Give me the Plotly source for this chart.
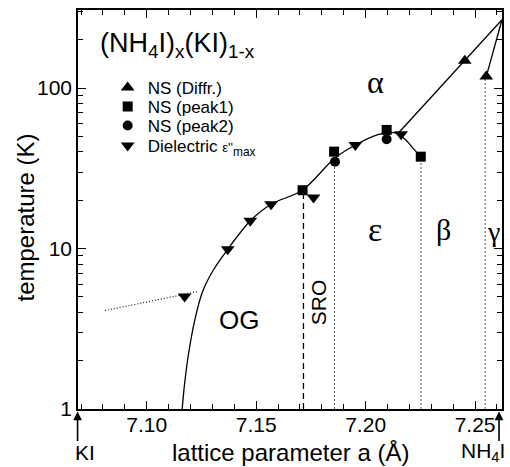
import plotly.graph_objects as go

# ---------------- data ----------------
diffr_x = [7.2453, 7.2551]
diffr_T = [148, 118]

peak1_x = [7.1712, 7.1856, 7.2096, 7.2252]
peak1_T = [23.1, 40.2, 54.9, 37.4]

peak2_x = [7.1860, 7.2096]
peak2_T = [34.8, 48.0]

diel_x = [7.1173, 7.1370, 7.1473, 7.1568, 7.1762, 7.1953, 7.2162]
diel_T = [5.03, 9.9, 14.9, 18.9, 20.8, 44.2, 51.6]

# phase boundary OG / epsilon / alpha
bound_x = [7.1162, 7.1171, 7.1191, 7.1219, 7.1254, 7.1303, 7.1370, 7.1473,
           7.1568, 7.1712, 7.1858, 7.1953, 7.2060, 7.2130, 7.2180, 7.2218, 7.2252]
bound_T = [1.0, 1.36, 2.21, 3.56, 5.35, 7.3, 9.9, 14.9,
           18.9, 23.1, 36.5, 44.2, 51.5, 52.8, 48.0, 42.0, 37.4]

# alpha boundary (straight) and gamma boundary
alpha_x = [7.2150, 7.2623]
alpha_T = [52.5, 267]
gamma_x = [7.2623, 7.2551]
gamma_T = [267, 118]

# low-temperature dotted extension
low_x = [7.0809, 7.1238]
low_T = [4.11, 5.41]

# vertical phase lines (x, top T)
sro_x, sro_T = 7.1716, 23.1
vdot_x = [7.1858, 7.2253, 7.2546]
vdot_T = [34.8, 37.4, 118]

x_ticks = [7.10, 7.15, 7.20, 7.25]
x_ticklabels = ["7.10", "7.15", "7.20", "7.25"]
y_ticks = [1, 10, 100]
y_ticklabels = ["1", "10", "100"]
y_minor = [2, 3, 4, 5, 6, 7, 8, 9, 20, 30, 40, 50, 60, 70, 80, 90, 200, 300]

FONT = "Liberation Sans, Arial, sans-serif"
SERIF = "Liberation Serif, Times New Roman, serif"

fig = go.Figure()

line_style = dict(color="black", width=1.3)

fig.add_trace(go.Scatter(x=bound_x, y=bound_T, mode="lines",
                         line=dict(color="black", width=1.3, shape="spline", smoothing=0.8),
                         showlegend=False, hoverinfo="skip"))
fig.add_trace(go.Scatter(x=alpha_x, y=alpha_T, mode="lines", line=line_style,
                         showlegend=False, hoverinfo="skip"))
fig.add_trace(go.Scatter(x=gamma_x, y=gamma_T, mode="lines", line=line_style,
                         showlegend=False, hoverinfo="skip"))
fig.add_trace(go.Scatter(x=low_x, y=low_T, mode="lines",
                         line=dict(color="black", width=1.1, dash="1px,2px"),
                         showlegend=False, hoverinfo="skip"))
fig.add_trace(go.Scatter(x=[sro_x, sro_x], y=[1, sro_T], mode="lines",
                         line=dict(color="black", width=1.3, dash="6px,4px"),
                         showlegend=False, hoverinfo="skip"))
for vx, vt in zip(vdot_x, vdot_T):
    fig.add_trace(go.Scatter(x=[vx, vx], y=[1, vt], mode="lines",
                             line=dict(color="#555", width=1, dash="2px,2px"),
                             showlegend=False, hoverinfo="skip"))

# legend rows: pixel centre y -> paper
def py2paper(py):
    return (409 - py) / 399.0

leg_x = 0.07
fig.add_trace(go.Scatter(x=diffr_x, y=diffr_T, mode="markers", name="NS (Diffr.)",
                         legend="legend",
                         marker=dict(symbol="triangle-up", size=12, color="black")))
fig.add_trace(go.Scatter(x=peak1_x, y=peak1_T, mode="markers", name="NS (peak1)",
                         legend="legend2",
                         marker=dict(symbol="square", size=10, color="black")))
fig.add_trace(go.Scatter(x=peak2_x, y=peak2_T, mode="markers", name="NS (peak2)",
                         legend="legend3",
                         marker=dict(symbol="circle", size=10, color="black")))
fig.add_trace(go.Scatter(x=diel_x, y=diel_T, mode="markers",
                         name="Dielectric <span style='font-size:13px'>ε''</span><sub>max</sub>",
                         legend="legend4",
                         marker=dict(symbol="triangle-down", size=12, color="black")))

def leg(py):
    return dict(x=leg_x, y=py2paper(py), xanchor="left", yanchor="middle",
                font=dict(family=FONT, size=17, color="black"),
                bgcolor="rgba(0,0,0,0)", itemwidth=30, borderwidth=0)

ann = []
def txt(x, y, s, size, font=FONT, xref="x", yref="y", angle=0):
    ann.append(dict(x=x, y=y, xref=xref, yref=yref, text=s, showarrow=False,
                    font=dict(family=font, size=size, color="black"), textangle=angle,
                    xanchor="center", yanchor="middle"))

txt(7.1140, 2.27, "(NH<sub>4</sub>I)<sub>x</sub>(KI)<sub>1-x</sub>", 27)
txt(7.2045, 2.041, "α", 32, SERIF)
txt(7.2045, 1.119, "ε", 34, SERIF)
txt(7.2355, 1.12, "β", 30, SERIF)
txt(7.2585, 1.104, "γ", 28, SERIF)
txt(7.1423, 0.556, "OG", 26)
txt(7.1786, 0.664, "SRO", 21, angle=-90)

# axis titles & end-member labels (paper coords)
txt(0.5, -0.108, "lattice parameter a (Å)", 24, xref="paper", yref="paper")
txt(-0.124, 0.481, "temperature (K)", 24, xref="paper", yref="paper", angle=-90)
txt(0.0164, -0.110, "KI", 21, xref="paper", yref="paper")
txt(0.955, -0.108, "NH<sub>4</sub>I", 21, xref="paper", yref="paper")

for px in [-0.001, 0.993]:
    ann.append(dict(x=px, y=-0.006, xref="paper", yref="paper", text="", showarrow=True,
                    ax=0, ay=31, arrowhead=2, arrowsize=1.1, arrowwidth=1.6,
                    arrowcolor="black"))

fig.update_layout(
    width=510, height=467,
    margin=dict(l=78, r=6, t=10, b=58),
    paper_bgcolor="white", plot_bgcolor="white",
    font=dict(family=FONT, color="black"),
    annotations=ann,
    legend=leg(88), legend2=leg(107), legend3=leg(126), legend4=leg(146),
    xaxis=dict(range=[7.0686, 7.2623], tickvals=x_ticks, ticktext=x_ticklabels,
               ticks="inside", ticklen=8, tickwidth=1.3, tickcolor="black",
               showline=True, linecolor="black", linewidth=1.5, mirror="ticks",
               showgrid=False, zeroline=False, ticklabelstandoff=-4,
               tickfont=dict(family=FONT, size=21, color="black"),
               minor=dict(tickmode="linear", dtick=0.01, tick0=7.0, ticks="inside", ticklen=5,
                          tickwidth=1.2, tickcolor="black", showgrid=False)),
    yaxis=dict(type="log", range=[0, 2.487], tickvals=y_ticks, ticktext=y_ticklabels,
               ticks="inside", ticklen=8, tickwidth=1.3, tickcolor="black",
               showline=True, linecolor="black", linewidth=1.5, mirror="ticks",
               showgrid=False, zeroline=False, ticklabelstandoff=0,
               tickfont=dict(family=FONT, size=21, color="black"),
               minor=dict(tickmode="array", tickvals=y_minor, ticks="inside", ticklen=5,
                          tickwidth=1.2, tickcolor="black", showgrid=False)),
)

fig.write_html("out.html")
